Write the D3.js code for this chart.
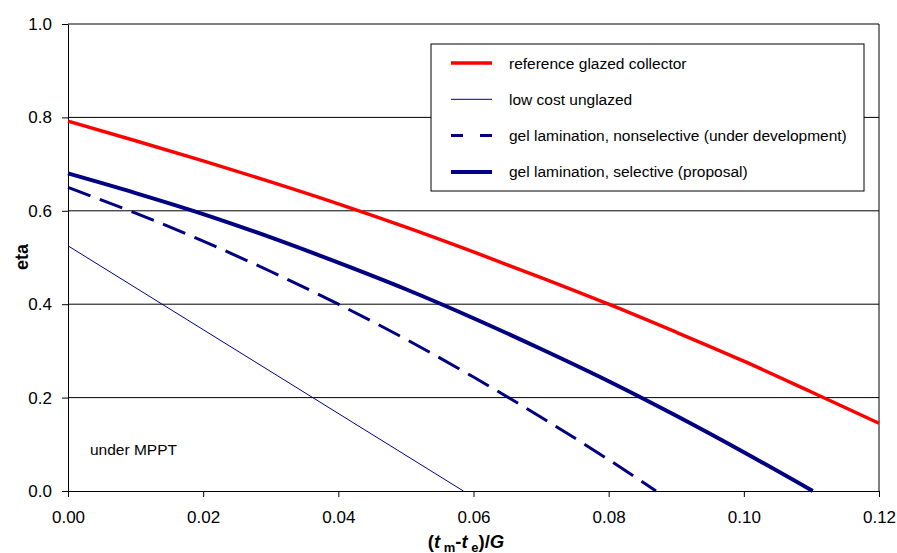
<!DOCTYPE html>
<html>
<head>
<meta charset="utf-8">
<script src="https://cdn.jsdelivr.net/npm/d3@7"></script>
<style>
  body { margin: 0; background: #fff; }
  text { font-family: "Liberation Sans", Arial, sans-serif; fill: #000; }
</style>
</head>
<body>
<div id="chart"></div>
<script>
// Data
const xTicks = [0, 0.02, 0.04, 0.06, 0.08, 0.10, 0.12];
const yTicks = [0, 0.2, 0.4, 0.6, 0.8, 1.0];

const glazedX = [0, 0.01, 0.02, 0.03, 0.04, 0.05, 0.06, 0.07, 0.08, 0.09, 0.10, 0.11, 0.12];
const glazedY = [0.792, 0.750, 0.707, 0.662, 0.615, 0.565, 0.512, 0.457, 0.400, 0.340, 0.278, 0.212, 0.145];

const unglazedX = [0, 0.0585];
const unglazedY = [0.525, 0];

const nonselX = [0, 0.01, 0.02, 0.03, 0.04, 0.05, 0.06, 0.07, 0.08, 0.087];
const nonselY = [0.650, 0.595, 0.535, 0.470, 0.400, 0.325, 0.244, 0.158, 0.067, 0];

const selX = [0, 0.01, 0.02, 0.03, 0.04, 0.05, 0.06, 0.07, 0.08, 0.09, 0.10, 0.1102];
const selY = [0.680, 0.638, 0.593, 0.543, 0.489, 0.432, 0.370, 0.304, 0.235, 0.161, 0.083, 0];

const seriesNames = [
    "reference glazed collector",
    "low cost unglazed",
    "gel lamination, nonselective (under development)",
    "gel lamination, selective (proposal)"
];

const zip = (xs, ys) => xs.map((x, i) => [x, ys[i]]);

const series = [
    { name: seriesNames[0], points: zip(glazedX, glazedY), color: "#ff0000", width: 3.5, dash: null },
    { name: seriesNames[1], points: zip(unglazedX, unglazedY), color: "#000080", width: 1, dash: null },
    { name: seriesNames[2], points: zip(nonselX, nonselY), color: "#000080", width: 3, dash: "24,10" },
    { name: seriesNames[3], points: zip(selX, selY), color: "#000080", width: 4, dash: null }
];

const outerWidth = 897;
const outerHeight = 553;
const margin = { top: 24, right: 18, bottom: 62, left: 68 };
const innerWidth = outerWidth - margin.left - margin.right;
const innerHeight = outerHeight - margin.top - margin.bottom;

const svg = d3.select("#chart")
    .append("svg")
    .attr("width", outerWidth)
    .attr("height", outerHeight)
    .append("g")
    .attr("transform", "translate(" + margin.left + "," + margin.top + ")");

const xScale = d3.scaleLinear().domain([0, 0.12]).range([0, innerWidth]);
const yScale = d3.scaleLinear().domain([0, 1]).range([innerHeight, 0]);

// Gridlines
svg.append("g")
    .selectAll("line")
    .data(yTicks.filter(t => t > 0))
    .enter()
    .append("line")
    .attr("x1", 0)
    .attr("x2", innerWidth)
    .attr("y1", d => yScale(d))
    .attr("y2", d => yScale(d))
    .attr("stroke", "#000")
    .attr("stroke-width", 1);

// Right border
svg.append("line")
    .attr("x1", innerWidth).attr("x2", innerWidth)
    .attr("y1", 0).attr("y2", innerHeight)
    .attr("stroke", "#000");

// Axes
const xAxis = d3.axisBottom(xScale)
    .tickValues(xTicks)
    .tickSize(6)
    .tickSizeOuter(0)
    .tickPadding(14)
    .tickFormat(d3.format(".2f"));

svg.append("g")
    .attr("transform", "translate(0," + innerHeight + ")")
    .call(xAxis)
    .call(g => g.select(".domain").attr("stroke", "#000"))
    .call(g => g.selectAll(".tick line").attr("stroke", "#000"))
    .selectAll("text")
    .attr("font-size", 17)
    .attr("font-family", "Liberation Sans, Arial, sans-serif");

const yAxis = d3.axisLeft(yScale)
    .tickValues(yTicks)
    .tickSize(6)
    .tickSizeOuter(0)
    .tickPadding(10)
    .tickFormat(d3.format(".1f"));

svg.append("g")
    .call(yAxis)
    .call(g => g.select(".domain").attr("stroke", "#000"))
    .call(g => g.selectAll(".tick line").attr("stroke", "#000"))
    .selectAll("text")
    .attr("font-size", 17)
    .attr("font-family", "Liberation Sans, Arial, sans-serif");

// Curves
const line = d3.line()
    .x(d => xScale(d[0]))
    .y(d => yScale(d[1]))
    .curve(d3.curveMonotoneX);

svg.append("g")
    .selectAll("path")
    .data(series)
    .enter()
    .append("path")
    .attr("d", d => line(d.points))
    .attr("fill", "none")
    .attr("stroke", d => d.color)
    .attr("stroke-width", d => d.width)
    .attr("stroke-dasharray", d => d.dash);

// Legend
const legend = svg.append("g")
    .attr("transform", "translate(" + (431 - margin.left) + "," + (44 - margin.top) + ")");

legend.append("rect")
    .attr("x", 0).attr("y", 0)
    .attr("width", 433).attr("height", 147)
    .attr("fill", "#fff")
    .attr("stroke", "#000")
    .attr("stroke-width", 1);

const legendRows = legend.selectAll("g.row")
    .data(series)
    .enter()
    .append("g")
    .attr("class", "row")
    .attr("transform", (d, i) => "translate(0," + (19 + i * 36.3) + ")");

legendRows.append("line")
    .attr("x1", 20).attr("x2", 61)
    .attr("y1", 0).attr("y2", 0)
    .attr("stroke", d => d.color)
    .attr("stroke-width", d => d.width)
    .attr("stroke-dasharray", d => d.dash ? "12,17" : null);

legendRows.append("text")
    .attr("x", 78)
    .attr("y", 5.5)
    .attr("font-size", 15.5)
    .text(d => d.name);

// Annotation
svg.append("text")
    .attr("x", 90 - margin.left)
    .attr("y", 455 - margin.top)
    .attr("font-size", 15.5)
    .text("under MPPT");

// Axis titles
svg.append("text")
    .attr("transform", "translate(" + (28 - margin.left) + "," + (257 - margin.top) + ") rotate(-90)")
    .attr("text-anchor", "middle")
    .attr("font-size", 18)
    .attr("font-weight", "bold")
    .text("eta");

const xTitle = svg.append("text")
    .attr("x", 466 - margin.left)
    .attr("y", 548 - margin.top)
    .attr("text-anchor", "middle")
    .attr("font-size", 18.5)
    .attr("font-weight", "bold");
xTitle.append("tspan").text("(");
xTitle.append("tspan").attr("font-style", "italic").text("t");
xTitle.append("tspan").attr("font-size", 13).attr("dy", 4).text(" m");
xTitle.append("tspan").attr("dy", -4).text("-");
xTitle.append("tspan").attr("font-style", "italic").text("t");
xTitle.append("tspan").attr("font-size", 13).attr("dy", 4).text(" e");
xTitle.append("tspan").attr("dy", -4).text(")/");
xTitle.append("tspan").attr("font-style", "italic").text("G");
</script>
</body>
</html>
